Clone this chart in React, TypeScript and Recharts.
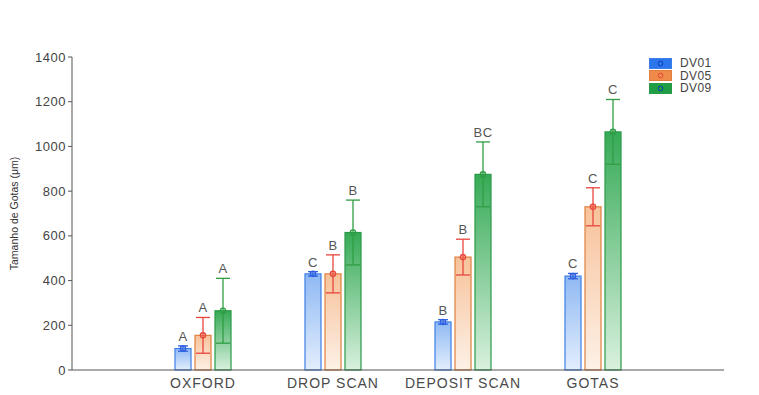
import React from "react";
import {
  BarChart,
  Bar,
  XAxis,
  YAxis,
  ErrorBar,
  LabelList,
} from "recharts";

const CATEGORIES = ["OXFORD", "DROP SCAN", "DEPOSIT SCAN", "GOTAS"];
const DV01 = [96, 430, 215, 420];
const DV01_SD = [12, 10, 10, 12];
const DV05 = [155, 430, 505, 730];
const DV05_SD = [80, 85, 80, 85];
const DV09 = [265, 615, 875, 1065];
const DV09_SD = [145, 145, 145, 145];
const DV01_LETTERS = ["A", "C", "B", "C"];
const DV05_LETTERS = ["A", "B", "B", "C"];
const DV09_LETTERS = ["A", "B", "BC", "C"];
const Y_TICKS = [0, 200, 400, 600, 800, 1000, 1200, 1400];

const FONT = "Liberation Sans, Arial, sans-serif";

const SERIES = [
  { key: "DV01", means: DV01, sd: DV01_SD, letters: DV01_LETTERS, swatch: "#2b76ec", stroke: "#3d7fe6", err: "#2e5fe0", top: "#8fb9f4", bottom: "#e3eefc", cap: 5 },
  { key: "DV05", means: DV05, sd: DV05_SD, letters: DV05_LETTERS, swatch: "#f08a4b", stroke: "#e0803e", err: "#e8463d", top: "#f7c29a", bottom: "#fdf1e7", cap: 7 },
  { key: "DV09", means: DV09, sd: DV09_SD, letters: DV09_LETTERS, swatch: "#1f9e45", stroke: "#2a9a48", err: "#2f9e44", top: "#36aa56", bottom: "#d9f1df", cap: 7 },
];

const data = CATEGORIES.map((name, i) => {
  const row: Record<string, any> = { name };
  SERIES.forEach((s) => {
    row[s.key] = s.means[i];
    row[s.key + "_sd"] = s.sd[i];
    row[s.key + "_lt"] = s.letters[i];
  });
  return row;
});

function makeShape(stroke: string, err: string) {
  return (props: any) => {
    const { x, y, width, height, fill } = props;
    return (
      <g>
        <rect x={x} y={y} width={width} height={height} fill={fill} stroke={stroke} strokeWidth={1.2} />
        <circle cx={x + width / 2} cy={y} r={2.6} fill="none" stroke={err} strokeWidth={1.4} />
      </g>
    );
  };
}

function makeLetter(s: (typeof SERIES)[number]) {
  return (props: any) => {
    const { x, y, width, height, value, index } = props;
    const mean = s.means[index];
    const perUnit = mean ? height / mean : 0;
    const top = y - s.sd[index] * perUnit;
    return (
      <text x={x + width / 2} y={top - 5} textAnchor="middle" fontSize={13} fill="#555" fontFamily={FONT} letterSpacing={0.5}>
        {value}
      </text>
    );
  };
}

function LegendBox() {
  return (
    <div style={{ position: "absolute", left: 649, top: 57, fontFamily: FONT, fontSize: 12, color: "#444" }}>
      {SERIES.map((s) => (
        <div key={s.key} style={{ display: "flex", alignItems: "center", height: 12.5, lineHeight: "12px" }}>
          <svg width={24} height={11} style={{ marginRight: 7 }}>
            <rect x={0.5} y={0.5} width={22} height={10} fill={s.swatch} stroke={s.stroke} />
            <circle cx={11.5} cy={5.5} r={2.3} fill="none" stroke={s.key === "DV05" ? "#e8463d" : "#0d3fb0"} strokeWidth={1} />
          </svg>
          <span style={{ lineHeight: "12px", letterSpacing: 0.4 }}>{s.key}</span>
        </div>
      ))}
    </div>
  );
}

export default function App() {
  return (
    <div style={{ position: "absolute", left: 0, top: 0, background: "#fff", width: 759, height: 395 }}>
      <BarChart
        width={759}
        height={395}
        data={data}
        margin={{ top: 57, right: 35, bottom: 5, left: 22 }}
        barSize={16}
        barGap={4}
      >
        <defs>
          {SERIES.map((s) => (
            <linearGradient key={s.key} id={"grad" + s.key} x1="0" y1="0" x2="0" y2="1">
              <stop offset="0%" stopColor={s.top} />
              <stop offset="100%" stopColor={s.bottom} />
            </linearGradient>
          ))}
        </defs>
        <XAxis
          dataKey="name"
          height={20}
          padding={{ left: 66, right: 66 }}
          tickLine={false}
          axisLine={{ stroke: "#555" }}
          tick={{ fontSize: 14, fill: "#4a4a4a", fontFamily: FONT, letterSpacing: 1 }}
          tickMargin={2}
        />
        <YAxis
          width={50}
          domain={[0, 1400]}
          ticks={Y_TICKS}
          axisLine={{ stroke: "#555" }}
          tickLine={{ stroke: "#555" }}
          tickSize={4}
          tick={{ fontSize: 13, fill: "#444", fontFamily: FONT, letterSpacing: 0.5 }}
          label={{
            value: "Tamanho de Gotas (μm)",
            angle: -90,
            position: "insideLeft",
            offset: -8,
            style: { fontSize: 10.5, fill: "#333", textAnchor: "middle", fontFamily: FONT },
          }}
        />
        {SERIES.map((s) => (
          <Bar
            key={s.key}
            dataKey={s.key}
            fill={"url(#grad" + s.key + ")"}
            shape={makeShape(s.stroke, s.err)}
            isAnimationActive={false}
          >
            <ErrorBar dataKey={s.key + "_sd"} width={s.cap} stroke={s.err} strokeWidth={1.3} direction="y" />
            <LabelList dataKey={s.key + "_lt"} content={makeLetter(s)} />
          </Bar>
        ))}
      </BarChart>
      <LegendBox />
    </div>
  );
}
